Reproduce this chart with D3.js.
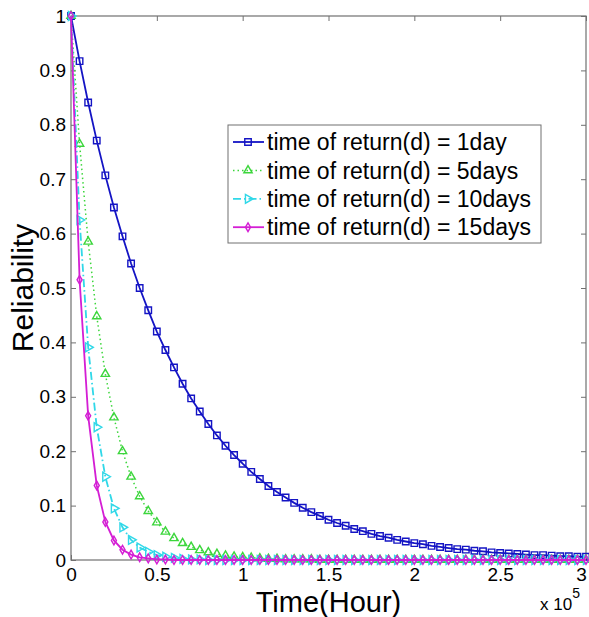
<!DOCTYPE html>
<html>
<head>
<meta charset="utf-8">
<script src="https://cdn.jsdelivr.net/npm/d3@7"></script>
<style>
    body { margin: 0; background: #fff; }
    svg text { font-family: "Liberation Sans", Arial, sans-serif; fill: #000; }
</style>
</head>
<body>
<svg id="chart" width="589" height="617"></svg>
<script>
// sample times (hours)
var times = [0, 5000, 10000, 15000, 20000, 25000, 30000, 35000, 40000, 45000,
    50000, 55000, 60000, 65000, 70000, 75000, 80000, 85000, 90000, 95000,
    100000, 105000, 110000, 115000, 120000, 125000, 130000, 135000, 140000, 145000,
    150000, 155000, 160000, 165000, 170000, 175000, 180000, 185000, 190000, 195000,
    200000, 205000, 210000, 215000, 220000, 225000, 230000, 235000, 240000, 245000,
    250000, 255000, 260000, 265000, 270000, 275000, 280000, 285000, 290000, 295000, 300000];

// reliability
var rel1day = [1, 0.917, 0.841, 0.771, 0.707, 0.648, 0.595, 0.545, 0.500, 0.459,
    0.420, 0.386, 0.354, 0.324, 0.297, 0.273, 0.250, 0.229, 0.210, 0.193,
    0.177, 0.162, 0.149, 0.136, 0.125, 0.115, 0.105, 0.096, 0.088, 0.081,
    0.074, 0.068, 0.063, 0.057, 0.053, 0.048, 0.044, 0.041, 0.037, 0.034,
    0.031, 0.029, 0.026, 0.024, 0.022, 0.020, 0.019, 0.017, 0.016, 0.014,
    0.013, 0.012, 0.011, 0.010, 0.009, 0.009, 0.008, 0.007, 0.007, 0.006, 0.006];
var rel5days = [1, 0.765, 0.585, 0.448, 0.342, 0.262, 0.200, 0.153, 0.117, 0.090,
    0.069, 0.052, 0.040, 0.031, 0.024, 0.018, 0.014, 0.011, 0.008, 0.006,
    0.005, 0.004, 0.003, 0.002, 0.002, 0.001, 0.001, 0.001, 0.001, 0, 0,
    0, 0, 0, 0, 0, 0, 0, 0, 0, 0, 0, 0, 0, 0, 0, 0, 0, 0, 0,
    0, 0, 0, 0, 0, 0, 0, 0, 0, 0, 0];
var rel10days = [1, 0.625, 0.391, 0.244, 0.153, 0.095, 0.060, 0.037, 0.023, 0.015,
    0.009, 0.006, 0.004, 0.002, 0.001, 0.001, 0, 0, 0, 0,
    0, 0, 0, 0, 0, 0, 0, 0, 0, 0, 0, 0, 0, 0, 0, 0, 0, 0, 0, 0,
    0, 0, 0, 0, 0, 0, 0, 0, 0, 0, 0, 0, 0, 0, 0, 0, 0, 0, 0, 0, 0];
var rel15days = [1, 0.515, 0.265, 0.137, 0.070, 0.036, 0.019, 0.010, 0.005, 0.003,
    0.001, 0.001, 0, 0, 0, 0, 0, 0, 0, 0,
    0, 0, 0, 0, 0, 0, 0, 0, 0, 0, 0, 0, 0, 0, 0, 0, 0, 0, 0, 0,
    0, 0, 0, 0, 0, 0, 0, 0, 0, 0, 0, 0, 0, 0, 0, 0, 0, 0, 0, 0, 0];

var legendLabels = ["time of return(d) = 1day", "time of return(d) = 5days",
    "time of return(d) = 10days", "time of return(d) = 15days"];
var xTicks = [0, 50000, 100000, 150000, 200000, 250000, 300000];
var xTickLabels = ["0", "0.5", "1", "1.5", "2", "2.5", "3"];
var yTicks = [0, 0.1, 0.2, 0.3, 0.4, 0.5, 0.6, 0.7, 0.8, 0.9, 1];
var yTickLabels = ["0", "0.1", "0.2", "0.3", "0.4", "0.5", "0.6", "0.7", "0.8", "0.9", "1"];

var CONFIG = {
    "width": 589,
    "height": 617,
    "left": 71,
    "right": 586,
    "top": 16,
    "bottom": 560,
    "axis_color": "#707070",
};

var series = [
    {values: rel1day,   color: "#1414c4", dash: null,            width: 1.8, shape: "square"},
    {values: rel5days,  color: "#3cd63c", dash: "1.5,3",         width: 1.5, shape: "triup"},
    {values: rel10days, color: "#30d8e8", dash: "8,3,1.5,3",     width: 1.8, shape: "triright"},
    {values: rel15days, color: "#d41ed4", dash: null,            width: 1.8, shape: "diamond"},
];

var svg = d3.select("#chart");

var x = d3.scaleLinear().domain([0, 300000]).range([CONFIG.left, CONFIG.right]);
var y = d3.scaleLinear().domain([0, 1]).range([CONFIG.bottom, CONFIG.top]);

// 标记形状
function markerPath(shape) {
    if (shape === "square") return d3.symbol(d3.symbolSquare, 42)();
    if (shape === "triup") return d3.symbol(d3.symbolTriangle, 30)();
    if (shape === "triright") return d3.symbol(d3.symbolTriangle, 34)();
    return d3.symbol(d3.symbolDiamond, 22)();
}
function markerRotate(shape) {
    return shape === "triright" ? " rotate(90)" : "";
}

// frame
svg.append("rect")
    .attr("x", CONFIG.left).attr("y", CONFIG.top)
    .attr("width", CONFIG.right - CONFIG.left)
    .attr("height", CONFIG.bottom - CONFIG.top)
    .attr("fill", "none")
    .attr("stroke", CONFIG.axis_color)
    .attr("stroke-width", 1.2);

// axes, ticks pointing inwards
var xAxis = svg.append("g")
    .attr("transform", "translate(0," + CONFIG.bottom + ")")
    .call(d3.axisBottom(x).tickValues(xTicks)
        .tickFormat(function(d, i) { return xTickLabels[i]; })
        .tickSizeInner(-5).tickSizeOuter(0).tickPadding(8));
var xTop = svg.append("g")
    .attr("transform", "translate(0," + CONFIG.top + ")")
    .call(d3.axisTop(x).tickValues(xTicks).tickFormat("")
        .tickSizeInner(-5).tickSizeOuter(0));
var yAxis = svg.append("g")
    .attr("transform", "translate(" + CONFIG.left + ",0)")
    .call(d3.axisLeft(y).tickValues(yTicks)
        .tickFormat(function(d, i) { return yTickLabels[i]; })
        .tickSizeInner(-5).tickSizeOuter(0).tickPadding(5));
var yRight = svg.append("g")
    .attr("transform", "translate(" + CONFIG.right + ",0)")
    .call(d3.axisRight(y).tickValues(yTicks).tickFormat("")
        .tickSizeInner(-5).tickSizeOuter(0));

svg.selectAll(".domain").remove();
svg.selectAll(".tick line").attr("stroke", CONFIG.axis_color);
svg.selectAll(".tick text")
    .style("font-family", "'Liberation Sans', Arial, sans-serif")
    .style("font-size", "19px")
    .attr("fill", "#000");

// last x label sits just inside the figure edge
xAxis.selectAll(".tick text")
    .filter(function(d) { return d === 300000; })
    .attr("x", -5);

// 曲线
var line = d3.line()
    .x(function(d, i) { return x(times[i]); })
    .y(function(d) { return y(d); });

var plot = svg.append("g").attr("class", "plot");
series.forEach(function(s) {
    plot.append("path")
        .datum(s.values)
        .attr("d", line)
        .attr("fill", "none")
        .attr("stroke", s.color)
        .attr("stroke-width", s.width)
        .attr("stroke-dasharray", s.dash);
    plot.append("g").selectAll("path")
        .data(s.values)
        .enter().append("path")
        .attr("d", markerPath(s.shape))
        .attr("transform", function(d, i) {
            return "translate(" + x(times[i]) + "," + y(d) + ")" + markerRotate(s.shape);
        })
        .attr("fill", "none")
        .attr("stroke", s.color)
        .attr("stroke-width", 1.4);
});

// 图例
var legend = svg.append("g").attr("transform", "translate(228,125)");
legend.append("rect")
    .attr("width", 313).attr("height", 118)
    .attr("fill", "#fff")
    .attr("stroke", CONFIG.axis_color)
    .attr("stroke-width", 1);
series.forEach(function(s, i) {
    var cy = 17 + i * 28.4;
    legend.append("line")
        .attr("x1", 5).attr("x2", 36)
        .attr("y1", cy).attr("y2", cy)
        .attr("stroke", s.color)
        .attr("stroke-width", s.width)
        .attr("stroke-dasharray", s.dash);
    legend.append("path")
        .attr("d", markerPath(s.shape))
        .attr("transform", "translate(20," + cy + ")" + markerRotate(s.shape))
        .attr("fill", "none")
        .attr("stroke", s.color)
        .attr("stroke-width", 1.4);
    legend.append("text")
        .attr("x", 39).attr("y", cy)
        .attr("dy", "0.36em")
        .style("font-size", "23px")
        .text(legendLabels[i]);
});

// axis titles
svg.append("text")
    .attr("x", (CONFIG.left + CONFIG.right) / 2)
    .attr("y", 612)
    .attr("text-anchor", "middle")
    .style("font-size", "29px")
    .text("Time(Hour)");

svg.append("text")
    .attr("transform", "translate(33,288) rotate(-90)")
    .attr("text-anchor", "middle")
    .style("font-size", "30px")
    .text("Reliability");

var expo = svg.append("text")
    .attr("x", 540).attr("y", 610)
    .style("font-size", "17px");
expo.append("tspan").text("x 10");
expo.append("tspan").attr("dy", -12).style("font-size", "14px").text("5");
</script>
</body>
</html>
